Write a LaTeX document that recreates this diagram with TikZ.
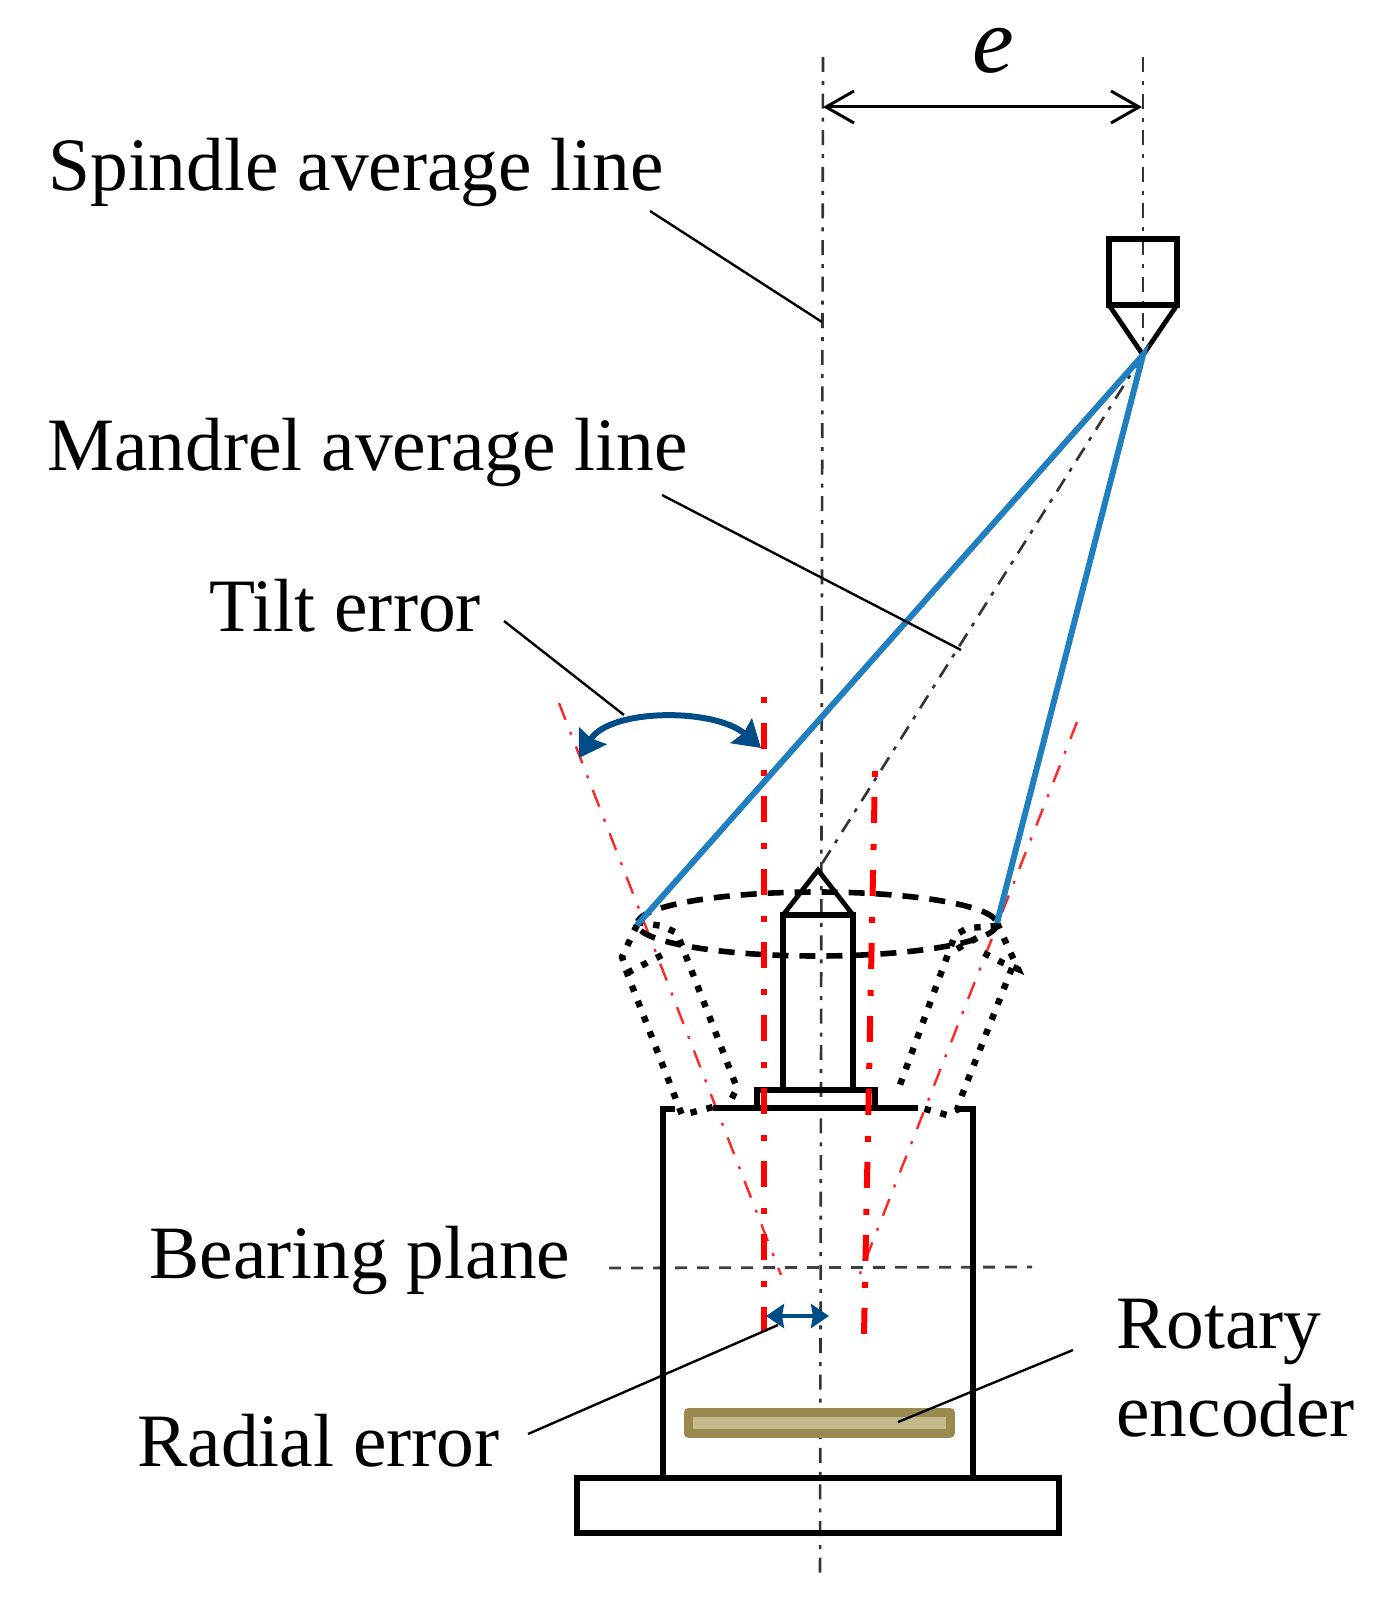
\documentclass[tikz,border=0pt]{standalone}
\usepackage{fontspec}
\setmainfont{Liberation Serif}
\usetikzlibrary{arrows.meta}
\definecolor{conecolor}{HTML}{1F7FBF}
\definecolor{arrowcolor}{HTML}{004C86}
\definecolor{encoderfill}{HTML}{C4B98A}
\definecolor{encoderedge}{HTML}{9A8A50}
\begin{document}
\begin{tikzpicture}[x=0.5pt,y=-0.5pt]
\tikzstyle{every node}+=[inner sep=0pt]
\tikzstyle{labeltext}=[anchor=base west,font=\fontsize{37.7}{44}\selectfont]
\tikzstyle{heavyline}=[black,line width=2.9pt,line join=miter]
\tikzstyle{axisline}=[black!80,line width=1.3pt,dash pattern=on 7.5pt off 4.5pt on 2pt off 4.3pt]
\tikzstyle{planeline}=[black!75,line width=1.4pt,dash pattern=on 6pt off 5pt]
\tikzstyle{leaderline}=[black,line width=1.2pt]
\tikzstyle{redthick}=[red,line width=3pt,dash pattern=on 3pt off 10pt on 13pt off 10.5pt]
\tikzstyle{redthin}=[red!85,line width=1.2pt,dash pattern=on 9pt off 6.5pt on 1.5pt off 6.3pt]
\tikzstyle{dottedline}=[black,line width=3.2pt,dash pattern=on 3.2pt off 5pt]
\tikzstyle{dashedline}=[black,line width=2.8pt,dash pattern=on 8pt off 5.5pt]
\tikzstyle{coneline}=[conecolor,line width=3pt]
\tikzstyle{errorarrow}=[arrowcolor,line width=3pt,{Stealth[length=13pt,width=16pt,inset=1.5pt]}-{Stealth[length=13pt,width=16pt,inset=1.5pt]}]
\tikzstyle{radialarrow}=[arrowcolor,line width=2pt,{Stealth[length=9pt,width=12pt,inset=1pt]}-{Stealth[length=9pt,width=12pt,inset=1pt]}]
\useasboundingbox (0,0) rectangle (1385,1611);
\coordinate (spindletop) at (823,57);
\coordinate (spindlebot) at (820,1580);
\coordinate (toolaxis) at (1143,57);
\coordinate (tooltip) at (1143,355);
\coordinate (mandreltip) at (818,870);
\coordinate (coneleft) at (637,925);
\coordinate (coneright) at (997,923);
\draw [axisline] (spindletop) -- (spindlebot);
\draw [axisline] (toolaxis) -- (tooltip);
\draw [axisline] (tooltip) -- (mandreltip);
\draw [planeline] (609,1268) -- (1032,1267);
\draw [redthin] (559,703) -- (781,1275);
\draw [redthin] (1077,722) -- (856,1284);
\draw [heavyline] (1109,305) -- (1109,239) -- (1177,239) -- (1177,305) -- cycle;
\draw [heavyline,line width=2.4pt] (1109,305) -- (tooltip) -- (1177,305);
\draw [heavyline] (577,1478) rectangle (1059,1533);
\draw [heavyline] (675,1109) -- (663,1109) -- (663,1478);
\draw [heavyline] (955,1109) -- (973,1109) -- (973,1478);
\draw [heavyline] (713,1108) -- (918,1108);
\draw [heavyline] (757,1108) -- (757,1090) -- (875,1090) -- (875,1108);
\draw [heavyline] (783,1090) -- (783,915) -- (853,915) -- (853,1090);
\draw [heavyline,line width=2.4pt] (783,915) -- (mandreltip) -- (853,915);
\draw [dashedline] (817,924) ellipse (180 and 32);
\draw [dottedline] (coneleft) -- (622,957) -- (627,973) -- (682,1115) -- (713,1107);
\draw [dottedline] (627,973) -- (668,952);
\draw [dottedline] (637,922) -- (662,926) -- (677,933) -- (737,1088) -- (730,1102);
\draw [dottedline] (coneright) -- (1018,969) -- (1003,963) -- (978,950);
\draw [dottedline] (1012,968) -- (962,1095) -- (957,1110) -- (947,1115) -- (918,1107);
\draw [dottedline] (997,926) -- (968,928) -- (955,935) -- (897,1093);
\draw [dottedline] (977,938) -- (955,950);
\draw [redthick] (764,697) -- (764,1332);
\draw [redthick] (875,771) -- (864,1335);
\fill [encoderfill] (688,1412) rectangle (950,1433);
\draw [encoderedge,line width=4.5pt,line join=round] (688,1412) rectangle (950,1433);
\draw [coneline] (coneleft) -- (tooltip) -- (coneright);
\draw [errorarrow] (579,758) .. controls (610,708) and (715,708) .. (761,748);
\draw [radialarrow] (766,1316) -- (829,1316);
\draw [black,line width=1.5pt,{Straight Barb[length=14pt,width=16pt]}-{Straight Barb[length=14pt,width=16pt]}] (823,107) -- (1142,107);
\node (elabel) at (993,51) {\fontsize{47}{50}\selectfont\itshape e};
\node [labeltext] (spindlelabel) at (48,191) {Spindle average line};
\node [labeltext] (mandrellabel) at (47,470) {Mandrel average line};
\node [labeltext] (tiltlabel) at (209,631) {Tilt error};
\node [labeltext] (bearinglabel) at (149,1278) {Bearing plane};
\node [labeltext] (radiallabel) at (137,1466) {Radial error};
\node [labeltext,anchor=west,align=left] (encoderlabel) at (1116,1368) {Rotary\\encoder};
\coordinate (spindlefoot) at (822,322);
\coordinate (mandrelfoot) at (961,650);
\coordinate (tiltfoot) at (624,715);
\coordinate (radialfoot) at (778,1325);
\coordinate (encoderfoot) at (898,1422);
\coordinate (spindlestart) at (650,211);
\coordinate (mandrelstart) at (662,495);
\coordinate (tiltstart) at (504,621);
\coordinate (radialstart) at (528,1434);
\coordinate (encoderstart) at (1073,1350);
\draw [leaderline] (spindlestart) -- (spindlefoot);
\draw [leaderline] (mandrelstart) -- (mandrelfoot);
\draw [leaderline] (tiltstart) -- (tiltfoot);
\draw [leaderline] (radialstart) -- (radialfoot);
\draw [leaderline] (encoderstart) -- (encoderfoot);
\end{tikzpicture}
\end{document}
